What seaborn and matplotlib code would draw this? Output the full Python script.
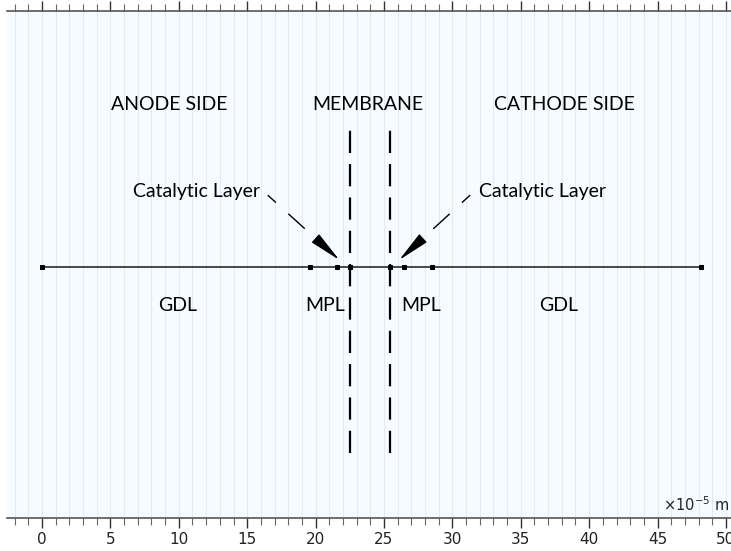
import numpy as np
import pandas as pd
import seaborn as sns
import matplotlib.pyplot as plt
from matplotlib.ticker import MultipleLocator

# layer boundaries along the cell, x in units of 1e-5 m
boundaries = [0, 19.6, 21.55, 22.55, 25.45, 26.5, 28.5, 48.15]
membrane_edges = [22.55, 25.45]

region_labels = ["ANODE SIDE", "MEMBRANE", "CATHODE SIDE"]
layer_labels = ["GDL", "MPL", "MPL", "GDL"]
cl_label = "Catalytic Layer"

x_ticks = [0, 5, 10, 15, 20, 25, 30, 35, 40, 45, 50]

sns.set_theme(style="white")
plt.rcParams["font.family"] = ["Lato", "DejaVu Sans"]

fig = plt.figure(figsize=(7.31, 5.51), dpi=100)
ax = fig.add_axes([7 / 731, 1 - 518 / 551, 1 - 7 / 731, (518 - 11) / 551])
ax.set_facecolor("#f5fbff")

df = pd.DataFrame({"x": boundaries, "y": np.zeros(len(boundaries))})
sns.lineplot(data=df, x="x", y="y", ax=ax, color="#3a3a3a", lw=1.3,
             marker="s", markersize=3.5, markerfacecolor="black",
             markeredgecolor="black")

# membrane edges
for xm in membrane_edges:
    ax.plot([xm, xm], [-13.6, 10.6], color="black", lw=1.6,
            linestyle=(0, (10, 5)))

# region and layer labels
fs = 14
for lab, xx in zip(region_labels, [9.3, 23.8, 38.2]):
    ax.text(xx, 11.9, lab, ha="center", va="center", fontsize=fs, color="black")
for lab, xx in zip(layer_labels, [9.95, 20.7, 27.7, 37.8]):
    ax.text(xx, -2.85, lab, ha="center", va="center", fontsize=fs, color="black")

# catalytic layer arrows
arrows = [((11.3, 5.5), (16.5, 5.25), (21.75, 0.5)),
          ((36.6, 5.5), (31.3, 5.25), (26.1, 0.5))]
for txt_xy, start, tip in arrows:
    ax.text(*txt_xy, cl_label, ha="center", va="center", fontsize=fs,
            color="black")
    v = np.array(tip) - np.array(start)
    back = np.array(tip) - v / np.linalg.norm(v) * 1.9
    ax.plot([start[0], back[0]], [start[1], back[1]], color="black", lw=1,
            linestyle=(8, (16, 12)))
    ax.annotate("", xy=tip, xytext=tuple(back),
                arrowprops=dict(arrowstyle="-|>,head_length=1.0,head_width=0.17",
                                mutation_scale=20, color="black", lw=1,
                                shrinkA=0, shrinkB=0))

ax.set_xlim(-2.56, 50.37)
ax.set_ylim(-18.35, 18.71)
ax.set_xticks(x_ticks)
ax.xaxis.set_minor_locator(MultipleLocator(1))
ax.set_yticks([])
ax.set_xlabel("")
ax.set_ylabel("")
ax.grid(True, which="both", axis="x", color="#e3ebf2", lw=0.8)
ax.set_axisbelow(True)

for side in ["left", "right"]:
    ax.spines[side].set_visible(False)
for side in ["top", "bottom"]:
    ax.spines[side].set_color("#555555")
    ax.spines[side].set_linewidth(1.2)

ax.tick_params(axis="x", which="major", direction="out", length=7, width=1,
               color="#333333", top=True, bottom=True, labelsize=11,
               labelfontfamily="DejaVu Sans", labelcolor="#222222", pad=3)
ax.tick_params(axis="x", which="minor", direction="out", length=5, width=0.8,
               color="#666666", top=True, bottom=True)

ax.text(0.997, 0.008, r"$\times10^{-5}$ m", transform=ax.transAxes,
        ha="right", va="bottom", fontsize=10.5, family="DejaVu Sans",
        color="#222222")

fig.savefig("out.png", dpi=100)
